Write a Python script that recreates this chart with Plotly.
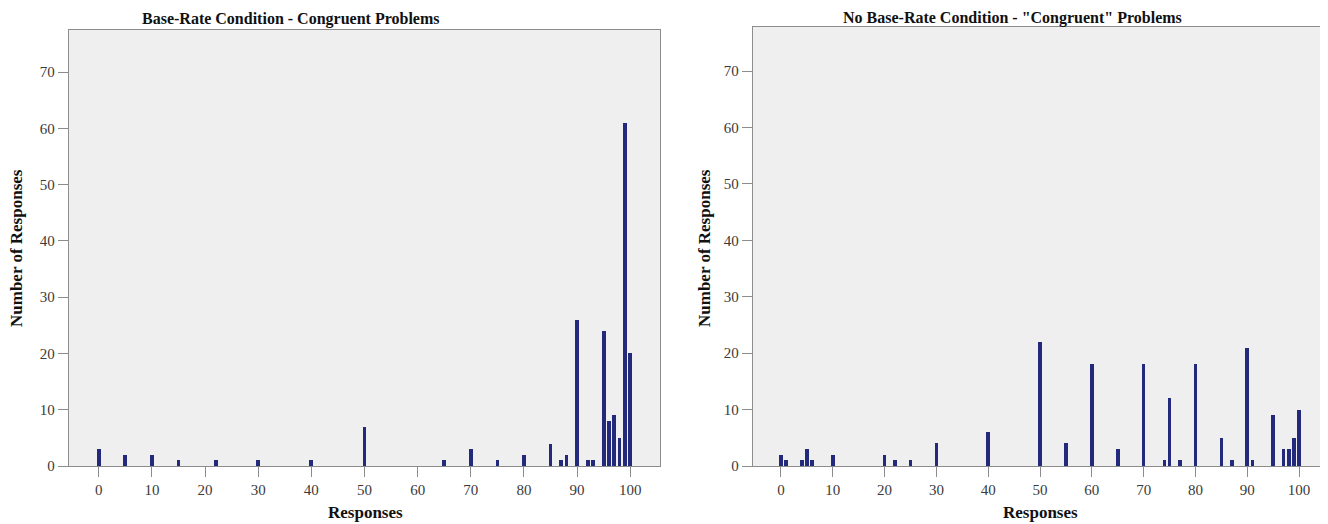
import plotly.graph_objects as go

# Base-Rate Condition - Congruent Problems
br_responses = [0, 5, 10, 15, 22, 30, 40, 50, 65, 70, 75, 80, 85, 87, 88, 90, 92, 93, 95, 96, 97, 98, 99, 100]
br_counts =    [3, 2, 2, 1, 1, 1, 1, 7, 1, 3, 1, 2, 4, 1, 2, 26, 1, 1, 24, 8, 9, 5, 61, 20]

# No Base-Rate Condition - "Congruent" Problems
nbr_responses = [0, 1, 4, 5, 6, 10, 20, 22, 25, 30, 40, 50, 55, 60, 65, 70, 74, 75, 77, 80, 85, 87, 90, 91, 95, 97, 98, 99, 100]
nbr_counts =    [2, 1, 1, 3, 1, 2, 2, 1, 1, 4, 6, 22, 4, 18, 3, 18, 1, 12, 1, 18, 5, 1, 21, 1, 9, 3, 3, 5, 10]

x_ticks = [0, 10, 20, 30, 40, 50, 60, 70, 80, 90, 100]
y_ticks = [0, 10, 20, 30, 40, 50, 60, 70]

titles = ["Base-Rate Condition - Congruent Problems", 'No Base-Rate Condition - "Congruent" Problems']
x_title = "Responses"
y_title = "Number of Responses"

OFF = 8  # default page body margin
W, H = 1328 - OFF, 524 - OFF
BAR = "#232a7c"
BG = "#efefef"
LINE = "#8c8c8c"
SERIF = "Liberation Serif, Times New Roman, serif"

fig = go.Figure()
fig.add_trace(go.Bar(x=br_responses, y=br_counts, width=0.7, marker=dict(color=BAR, line=dict(width=0)),
                     xaxis="x", yaxis="y", showlegend=False))
fig.add_trace(go.Bar(x=nbr_responses, y=nbr_counts, width=0.7, marker=dict(color=BAR, line=dict(width=0)),
                     xaxis="x2", yaxis="y2", showlegend=False))


def px_x(p):
    return (p - OFF) / W


def px_y(p):
    return 1 - (p - OFF) / H


axis_common = dict(showgrid=False, zeroline=False, showline=True, linecolor=LINE, linewidth=1.3,
                   ticks="outside", ticklen=10, tickcolor=LINE, tickwidth=1, automargin=False,
                   mirror=True, tickfont=dict(family=SERIF, size=15, color="#3a3a3a"))

fig.update_layout(
    width=W, height=H,
    margin=dict(l=0, r=0, t=0, b=0, autoexpand=False),
    paper_bgcolor="white",
    plot_bgcolor=BG,
    bargap=0,
    xaxis=dict(domain=[px_x(69), px_x(660)], range=[-5.6, 105.6], tickvals=x_ticks, anchor="y", **axis_common),
    yaxis=dict(domain=[px_y(466), px_y(30)], range=[0, 77.5], tickvals=y_ticks, anchor="x", **axis_common),
    xaxis2=dict(domain=[px_x(753), px_x(1326)], range=[-5.4, 105.2], tickvals=x_ticks, anchor="y2", **axis_common),
    yaxis2=dict(domain=[px_y(466), px_y(27)], range=[0, 77.8], tickvals=y_ticks, anchor="x2", **axis_common),
)

ann = []
ann.append(dict(text="<b>" + titles[0] + "</b>", x=px_x(290), y=px_y(19), xref="paper", yref="paper",
                showarrow=False, xanchor="center", yanchor="middle",
                font=dict(family=SERIF, size=16, color="#111111")))
ann.append(dict(text="<b>" + titles[1] + "</b>", x=px_x(1012), y=px_y(18), xref="paper", yref="paper",
                showarrow=False, xanchor="center", yanchor="middle",
                font=dict(family=SERIF, size=16, color="#111111")))
for cx in [365, 1040]:
    ann.append(dict(text="<b>" + x_title + "</b>", x=px_x(cx), y=px_y(512), xref="paper", yref="paper",
                    showarrow=False, xanchor="center", yanchor="middle",
                    font=dict(family=SERIF, size=17, color="#111111")))
for cx in [17, 705]:
    ann.append(dict(text="<b>" + y_title + "</b>", x=px_x(cx), y=px_y(248), xref="paper", yref="paper",
                    showarrow=False, xanchor="center", yanchor="middle", textangle=-90,
                    font=dict(family=SERIF, size=17, color="#111111")))
fig.update_layout(annotations=ann)

fig.write_html("out.html")
